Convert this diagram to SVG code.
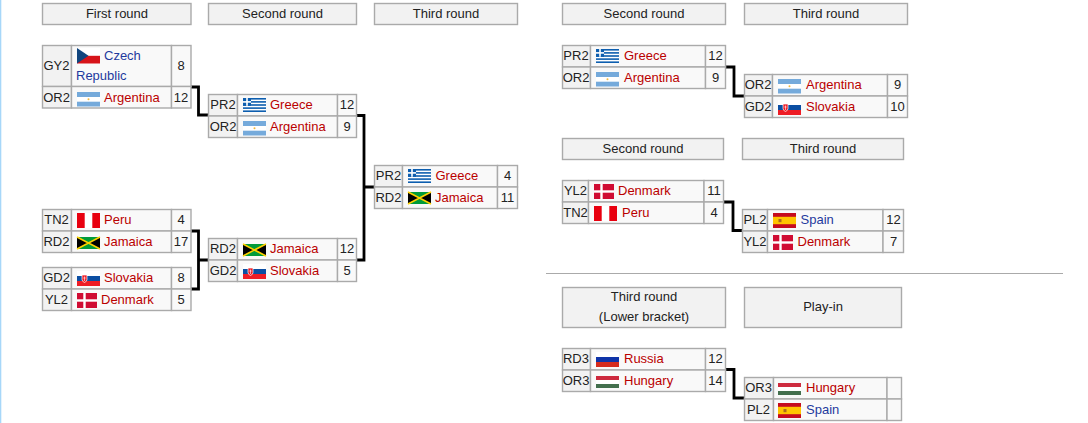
<svg xmlns="http://www.w3.org/2000/svg" width="1088" height="423" viewBox="0 0 1088 423">
<style>
text{font-family:"Liberation Sans",Arial,sans-serif;font-size:13px;fill:#222}
.h{fill:#f2f2f2;stroke:#aaa;stroke-width:1.4}
.s{fill:#f2f2f2;stroke:#aaa;stroke-width:1.4}
.c{fill:#f9f9f9;stroke:#aaa;stroke-width:1.4}
.m{text-anchor:middle}
text.r{fill:#ba0000}
text.b{fill:#1f3a9e}
.k{fill:none;stroke:#000;stroke-width:2.8}
</style>
<defs>
<g id="ar"><rect width="23" height="14.5" fill="#fff"/><rect width="23" height="5" fill="#75aadb"/><rect y="9.700" width="23" height="4.800" fill="#75aadb"/><circle cx="11.500" cy="7.300" r="1" fill="#f0b840"/></g>
<g id="gr"><rect width="23" height="14" fill="#fff"/><g fill="#0d5eaf"><rect y="0" width="23" height="1.600"/><rect y="3.100" width="23" height="1.600"/><rect y="6.200" width="23" height="1.600"/><rect y="9.300" width="23" height="1.600"/><rect y="12.400" width="23" height="1.600"/><rect width="8" height="7.800"/></g><rect x="3.200" width="1.600" height="7.800" fill="#fff"/><rect y="3.100" width="8" height="1.600" fill="#fff"/></g>
<g id="cz"><rect width="23" height="15.500" fill="#fff"/><rect y="7.800" width="23" height="7.700" fill="#d7141a"/><path d="M0 0L11.500 7.800L0 15.500Z" fill="#11457e"/></g>
<g id="pe"><rect width="23" height="15" fill="#fff"/><rect width="7.700" height="15" fill="#e8000f"/><rect x="15.300" width="7.700" height="15" fill="#e8000f"/></g>
<g id="ja"><rect width="23" height="12" fill="#009b3a"/><path d="M0 0L11.500 6L0 12ZM23 0L11.500 6L23 12Z" fill="#000"/><path d="M0 0L23 12M23 0L0 12" stroke="#fed100" stroke-width="1.600"/></g>
<g id="sk"><rect width="23" height="15" fill="#fff"/><rect y="5" width="23" height="5" fill="#0b4ea2"/><rect y="10" width="23" height="5" fill="#ee1c25"/><path d="M5 4h5v4.500q0 2-2.500 3q-2.500-1-2.500-3Z" fill="#ee1c25" stroke="#fff" stroke-width=".7"/><path d="M7.500 5.500v4.500M6.300 7h2.400" stroke="#fff" stroke-width=".6"/></g>
<g id="dk"><rect width="20" height="15" fill="#d00c33"/><rect x="6.300" width="2.400" height="15" fill="#fff"/><rect y="6.300" width="20" height="2.400" fill="#fff"/></g>
<g id="es"><rect width="23" height="15" fill="#c60b1e"/><rect y="3.800" width="23" height="7.400" fill="#ffc400"/><rect x="5.500" y="6" width="3" height="3.200" fill="#ad6a1c"/></g>
<g id="ru"><rect width="23" height="5" fill="#fff"/><rect y="5" width="23" height="5" fill="#0f34a8"/><rect y="10" width="23" height="5" fill="#d52b1e"/></g>
<g id="hu"><rect width="23" height="4" fill="#cd2a3e"/><rect y="4" width="23" height="4" fill="#fff"/><rect y="8" width="23" height="4" fill="#436f4d"/></g>
</defs>
<rect width="1.300" height="423" fill="#a7d7f9"/>
<g id="headers">
<g id="h-first"><rect class="h" x="42.500" y="3.500" width="148.500" height="21"/><text class="m" x="117" y="18">First round</text></g>
<g id="h-second"><rect class="h" x="208.500" y="3.500" width="148" height="21"/><text class="m" x="282.500" y="18">Second round</text></g>
<g id="h-third"><rect class="h" x="374.500" y="3.500" width="143" height="21"/><text class="m" x="446" y="18">Third round</text></g>
<g id="h-second-b"><rect class="h" x="562.500" y="3.500" width="163" height="21"/><text class="m" x="644" y="18">Second round</text></g>
<g id="h-third-b"><rect class="h" x="744.500" y="3.500" width="163" height="21"/><text class="m" x="826" y="18">Third round</text></g>
<g id="h-second-c"><rect class="h" x="562.500" y="138.500" width="161" height="21"/><text class="m" x="643" y="153">Second round</text></g>
<g id="h-third-c"><rect class="h" x="742.500" y="138.500" width="161" height="21"/><text class="m" x="823" y="153">Third round</text></g>
<g id="h-lower"><rect class="h" x="562.500" y="287.500" width="163" height="40"/><text class="m" x="644" y="301">Third round</text><text class="m" x="644" y="321">(Lower bracket)</text></g>
<g id="h-playin"><rect class="h" x="744.500" y="287.500" width="157" height="40"/><text class="m" x="823" y="311">Play-in</text></g>
</g>
<path id="divider" d="M546 273.500H1063" stroke="#aaa" stroke-width="1" fill="none"/>
<g id="connectors">
<path class="k" d="M191 87H198.500V115H208"/>
<path class="k" d="M191 231H198.500V289H191M198.500 260H208"/>
<path class="k" d="M357 115.500H364V260H357M364 187H374"/>
<path class="k" d="M726 67H734V96H744"/>
<path class="k" d="M724 202H733V230.500H742"/>
<path class="k" d="M726 369.500H734V398H744"/>
</g>
<g id="m1">
<rect class="s" x="42.500" y="45.500" width="29" height="41"/><rect class="c" x="71.500" y="45.500" width="100" height="41"/><rect class="c" x="171.500" y="45.500" width="19.500" height="41"/>
<rect class="s" x="42.500" y="86.500" width="29" height="21.500"/><rect class="c" x="71.500" y="86.500" width="100" height="21.500"/><rect class="c" x="171.500" y="86.500" width="19.500" height="21.500"/>
<text class="m" x="56.500" y="70">GY2</text><use href="#cz" x="77" y="48"/><text class="b" x="104" y="60">Czech</text><text class="b" x="76" y="80">Republic</text><text class="m" x="181" y="70">8</text>
<text class="m" x="56.500" y="102">OR2</text><use href="#ar" x="77" y="92"/><text class="r" x="104" y="102">Argentina</text><text class="m" x="181" y="102">12</text>
</g>
<g id="m2">
<rect class="s" x="208.500" y="94.500" width="29" height="21.500"/><rect class="c" x="237.500" y="94.500" width="100" height="21.500"/><rect class="c" x="337.500" y="94.500" width="19" height="21.500"/>
<rect class="s" x="208.500" y="116" width="29" height="21.500"/><rect class="c" x="237.500" y="116" width="100" height="21.500"/><rect class="c" x="337.500" y="116" width="19" height="21.500"/>
<text class="m" x="223" y="109">PR2</text><use href="#gr" x="243" y="98"/><text class="r" x="270" y="109">Greece</text><text class="m" x="347" y="109">12</text>
<text class="m" x="223" y="131">OR2</text><use href="#ar" x="243" y="121"/><text class="r" x="270" y="131">Argentina</text><text class="m" x="347" y="131">9</text>
</g>
<g id="m3">
<rect class="s" x="42.500" y="209.500" width="29" height="21.500"/><rect class="c" x="71.500" y="209.500" width="100" height="21.500"/><rect class="c" x="171.500" y="209.500" width="19.500" height="21.500"/>
<rect class="s" x="42.500" y="231" width="29" height="21.500"/><rect class="c" x="71.500" y="231" width="100" height="21.500"/><rect class="c" x="171.500" y="231" width="19.500" height="21.500"/>
<text class="m" x="56.500" y="224">TN2</text><use href="#pe" x="77" y="213"/><text class="r" x="104" y="224">Peru</text><text class="m" x="181" y="224">4</text>
<text class="m" x="56.500" y="246">RD2</text><use href="#ja" x="77" y="237"/><text class="r" x="104" y="246">Jamaica</text><text class="m" x="181" y="246">17</text>
</g>
<g id="m4">
<rect class="s" x="42.500" y="267.500" width="29" height="21.500"/><rect class="c" x="71.500" y="267.500" width="100" height="21.500"/><rect class="c" x="171.500" y="267.500" width="19.500" height="21.500"/>
<rect class="s" x="42.500" y="289" width="29" height="21.500"/><rect class="c" x="71.500" y="289" width="100" height="21.500"/><rect class="c" x="171.500" y="289" width="19.500" height="21.500"/>
<text class="m" x="56.500" y="282">GD2</text><use href="#sk" x="77" y="271"/><text class="r" x="104" y="282">Slovakia</text><text class="m" x="181" y="282">8</text>
<text class="m" x="56.500" y="304">YL2</text><use href="#dk" x="77" y="293"/><text class="r" x="101" y="304">Denmark</text><text class="m" x="181" y="304">5</text>
</g>
<g id="m5">
<rect class="s" x="208.500" y="238.500" width="29" height="21.500"/><rect class="c" x="237.500" y="238.500" width="100" height="21.500"/><rect class="c" x="337.500" y="238.500" width="19" height="21.500"/>
<rect class="s" x="208.500" y="260" width="29" height="21.500"/><rect class="c" x="237.500" y="260" width="100" height="21.500"/><rect class="c" x="337.500" y="260" width="19" height="21.500"/>
<text class="m" x="223" y="253">RD2</text><use href="#ja" x="243" y="244"/><text class="r" x="270" y="253">Jamaica</text><text class="m" x="347" y="253">12</text>
<text class="m" x="223" y="275">GD2</text><use href="#sk" x="243" y="264"/><text class="r" x="270" y="275">Slovakia</text><text class="m" x="347" y="275">5</text>
</g>
<g id="m6">
<rect class="s" x="374.500" y="165.500" width="28" height="21.500"/><rect class="c" x="402.500" y="165.500" width="95" height="21.500"/><rect class="c" x="497.500" y="165.500" width="20" height="21.500"/>
<rect class="s" x="374.500" y="187" width="28" height="21.500"/><rect class="c" x="402.500" y="187" width="95" height="21.500"/><rect class="c" x="497.500" y="187" width="20" height="21.500"/>
<text class="m" x="388.500" y="180">PR2</text><use href="#gr" x="408" y="169"/><text class="r" x="435.500" y="180">Greece</text><text class="m" x="507.500" y="180">4</text>
<text class="m" x="388.500" y="202">RD2</text><use href="#ja" x="408" y="192"/><text class="r" x="435" y="202">Jamaica</text><text class="m" x="507.500" y="202">11</text>
</g>
<g id="m7">
<rect class="s" x="562.500" y="45.500" width="28" height="21.500"/><rect class="c" x="590.500" y="45.500" width="115" height="21.500"/><rect class="c" x="705.500" y="45.500" width="20" height="21.500"/>
<rect class="s" x="562.500" y="67" width="28" height="21.500"/><rect class="c" x="590.500" y="67" width="115" height="21.500"/><rect class="c" x="705.500" y="67" width="20" height="21.500"/>
<text class="m" x="576" y="60">PR2</text><use href="#gr" x="596" y="49"/><text class="r" x="624" y="60">Greece</text><text class="m" x="715.500" y="60">12</text>
<text class="m" x="576" y="82">OR2</text><use href="#ar" x="596" y="72"/><text class="r" x="624" y="82">Argentina</text><text class="m" x="715.500" y="82">9</text>
</g>
<g id="m8">
<rect class="s" x="744.500" y="74.500" width="28" height="21.500"/><rect class="c" x="772.500" y="74.500" width="115" height="21.500"/><rect class="c" x="887.500" y="74.500" width="20" height="21.500"/>
<rect class="s" x="744.500" y="96" width="28" height="21.500"/><rect class="c" x="772.500" y="96" width="115" height="21.500"/><rect class="c" x="887.500" y="96" width="20" height="21.500"/>
<text class="m" x="758" y="89">OR2</text><use href="#ar" x="778" y="79"/><text class="r" x="806" y="89">Argentina</text><text class="m" x="897.500" y="89">9</text>
<text class="m" x="758" y="111">GD2</text><use href="#sk" x="778" y="100"/><text class="r" x="806" y="111">Slovakia</text><text class="m" x="897.500" y="111">10</text>
</g>
<g id="m9">
<rect class="s" x="562.500" y="180.500" width="26" height="21.500"/><rect class="c" x="588.500" y="180.500" width="115.500" height="21.500"/><rect class="c" x="704" y="180.500" width="19.500" height="21.500"/>
<rect class="s" x="562.500" y="202" width="26" height="21.500"/><rect class="c" x="588.500" y="202" width="115.500" height="21.500"/><rect class="c" x="704" y="202" width="19.500" height="21.500"/>
<text class="m" x="575.500" y="195">YL2</text><use href="#dk" x="594" y="184"/><text class="r" x="618" y="195">Denmark</text><text class="m" x="714" y="195">11</text>
<text class="m" x="575.500" y="217">TN2</text><use href="#pe" x="594" y="206"/><text class="r" x="622" y="217">Peru</text><text class="m" x="714" y="217">4</text>
</g>
<g id="m10">
<rect class="s" x="742.500" y="209.500" width="25" height="21.500"/><rect class="c" x="767.500" y="209.500" width="115.500" height="21.500"/><rect class="c" x="883" y="209.500" width="20.500" height="21.500"/>
<rect class="s" x="742.500" y="231" width="25" height="21.500"/><rect class="c" x="767.500" y="231" width="115.500" height="21.500"/><rect class="c" x="883" y="231" width="20.500" height="21.500"/>
<text class="m" x="755" y="224">PL2</text><use href="#es" x="773" y="213"/><text class="b" x="800.500" y="224">Spain</text><text class="m" x="893.500" y="224">12</text>
<text class="m" x="755" y="246">YL2</text><use href="#dk" x="773" y="235"/><text class="r" x="797.500" y="246">Denmark</text><text class="m" x="893.500" y="246">7</text>
</g>
<g id="m11">
<rect class="s" x="562.500" y="348.500" width="28" height="21.500"/><rect class="c" x="590.500" y="348.500" width="115" height="21.500"/><rect class="c" x="705.500" y="348.500" width="20" height="21.500"/>
<rect class="s" x="562.500" y="370" width="28" height="21.500"/><rect class="c" x="590.500" y="370" width="115" height="21.500"/><rect class="c" x="705.500" y="370" width="20" height="21.500"/>
<text class="m" x="576" y="363">RD3</text><use href="#ru" x="596" y="352"/><text class="r" x="624" y="363">Russia</text><text class="m" x="715.500" y="363">12</text>
<text class="m" x="576" y="385">OR3</text><use href="#hu" x="596" y="376"/><text class="r" x="624" y="385">Hungary</text><text class="m" x="715.500" y="385">14</text>
</g>
<g id="m12">
<rect class="s" x="744.500" y="377.500" width="29" height="21.500"/><rect class="c" x="773.500" y="377.500" width="113.500" height="21.500"/><rect class="c" x="887" y="377.500" width="14.500" height="21.500"/>
<rect class="s" x="744.500" y="399" width="29" height="21.500"/><rect class="c" x="773.500" y="399" width="113.500" height="21.500"/><rect class="c" x="887" y="399" width="14.500" height="21.500"/>
<text class="m" x="758.500" y="392">OR3</text><use href="#hu" x="778" y="383"/><text class="r" x="806" y="392">Hungary</text>
<text class="m" x="758.500" y="414">PL2</text><use href="#es" x="778" y="403"/><text class="b" x="806" y="414">Spain</text>
</g>
</svg>
